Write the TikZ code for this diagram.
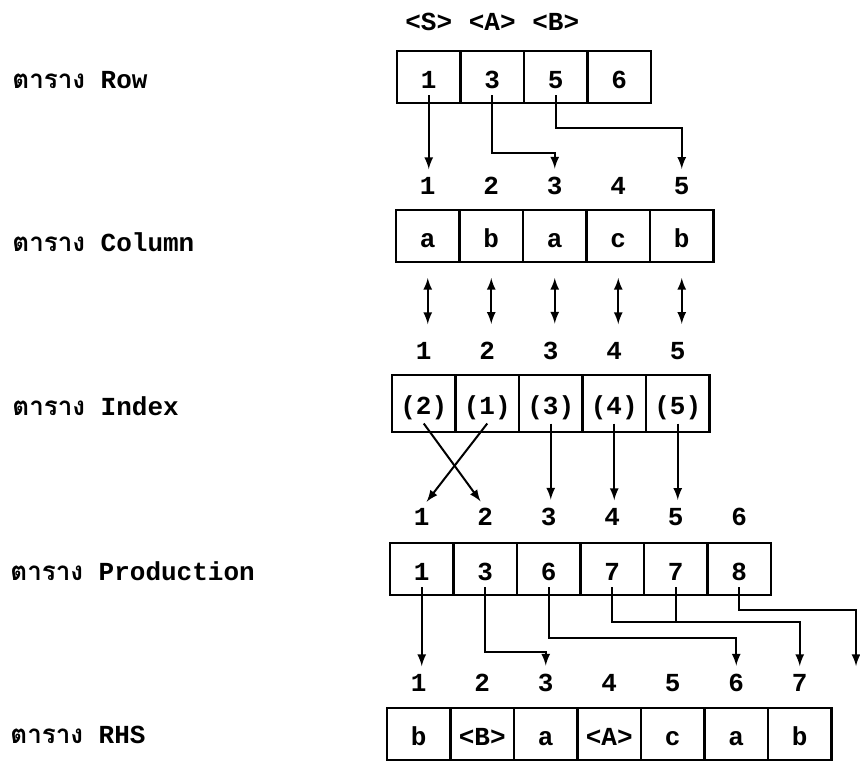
\documentclass[tikz,border=0pt]{standalone}
\usepackage{fontspec}
\setmonofont{Liberation Mono}
\newfontfamily\thaifont[Script=Thai]{Loma}
\usetikzlibrary{positioning}
\usetikzlibrary{arrows}
\newcommand{\tabfont}{\fontsize{13}{15}\selectfont\ttfamily\bfseries}
\tikzset{
  cell/.style = {rectangle, draw=black, line width=1.2pt, inner sep=0pt,
    outer sep=0pt, minimum width=31.75pt, minimum height=26pt,
    text height=12pt, text depth=1pt, font=\tabfont},% case d'une table
  idx_cell/.style = {cell, minimum height=28.5pt},% case de la table Index
  num/.style = {inner sep=0pt, font=\tabfont},% numero de case
  tab_label/.style = {anchor=west, inner sep=0pt, font=\tabfont},% nom de table
  link/.style = {->, >=latex, line width=1pt, shorten >=4pt},% fleche simple
  both_link/.style = {<->, >=latex, line width=1pt,
    shorten <=8pt, shorten >=9pt},% fleche double
  join_line/.style = {line width=1pt}% trait sans fleche
}

\begin{document}
\begin{tikzpicture}[x=0.5pt, y=-0.5pt]
  \useasboundingbox (0,0) rectangle (860,762);
  % noms des tables
  \node [tab_label] (lab_row) at (12,80) {{\thaifont ตาราง} Row};
  \node [tab_label] (lab_col) at (12,242) {{\thaifont ตาราง} Column};
  \node [tab_label] (lab_idx) at (12,406) {{\thaifont ตาราง} Index};
  \node [tab_label] (lab_prod) at (10,571) {{\thaifont ตาราง} Production};
  \node [tab_label] (lab_rhs) at (10,735) {{\thaifont ตาราง} RHS};
  % les cases
  \node [cell, anchor=north west] (row1) at (397,51) {1};
  \foreach \v [count=\i from 2, remember=\i as \j (initially 1)] in {3,5,6}
    \node [cell, right=0pt of row\j] (row\i) {\v};
  \node [cell, anchor=north west] (col1) at (396,210) {a};
  \foreach \v [count=\i from 2, remember=\i as \j (initially 1)] in {b,a,c,b}
    \node [cell, right=0pt of col\j] (col\i) {\v};
  \node [idx_cell, anchor=north west] (idx1) at (392,375) {(2)};
  \foreach \v [count=\i from 2, remember=\i as \j (initially 1)] in {1,3,4,5}
    \node [idx_cell, right=0pt of idx\j] (idx\i) {(\v)};
  \node [cell, anchor=north west] (prod1) at (390,543) {1};
  \foreach \v [count=\i from 2, remember=\i as \j (initially 1)] in {3,6,7,7,8}
    \node [cell, right=0pt of prod\j] (prod\i) {\v};
  \node [cell, anchor=north west] (rhs1) at (387,708) {b};
  \foreach \v [count=\i from 2, remember=\i as \j (initially 1)] in {<B>,a,<A>,c,a,b}
    \node [cell, right=0pt of rhs\j] (rhs\i) {\v};
  % numeros
  \foreach \v [count=\i] in {S,A,B}
    \node [num, above=10pt of row\i] (nt\i) {<\v>};
  \foreach \i in {1,...,5}
    \node [num, above=7.5pt of col\i] (cn\i) {\i};
  \foreach \i in {1,...,5}
    \node [num, above=7.5pt of idx\i] (in\i) {\i};
  \foreach \i in {1,...,6}
    \node [num, above=8.5pt of prod\i] (pn\i) {\i};
  \foreach \i in {1,...,7}
    \node [num, above=8pt of rhs\i] (hn\i) {\i};
  \coordinate (edge) at (856,666);
  % Row -> Column
  \draw [link] ([yshift=4pt]row1.south) -- (row1.south |- cn1.north);
  \draw [link] ([yshift=4pt]row2.south) -- ([yshift=-25pt]row2.south) -| (cn3.north);
  \draw [link] ([yshift=4pt]row3.south) -- ([yshift=-12.5pt]row3.south) -| (cn5.north);
  % Column <-> Index
  \foreach \i in {1,...,5}
    \draw [both_link] (col\i.south) -- (col\i.south |- in\i.north);
  % Index -> Production
  \draw [link] ([yshift=-10pt]idx1.center) -- (pn2.north);
  \draw [link] ([yshift=-10pt]idx2.center) -- (pn1.north);
  \foreach \i in {3,4,5}
    \draw [link] ([yshift=-10pt]idx\i.center) -- (idx\i.center |- pn\i.north);
  % Production -> RHS
  \draw [link] ([yshift=-9pt]prod1.center) -- (prod1.center |- hn1.north);
  \draw [link] ([yshift=-9pt]prod2.center) -- ([yshift=-28.5pt]prod2.south) -| (hn3.north);
  \draw [link] ([yshift=-9pt]prod3.center) -- ([yshift=-21.5pt]prod3.south) -| (hn6.north);
  \draw [link] ([yshift=-9pt]prod4.center) -- ([yshift=-13.5pt]prod4.south) -| (hn7.north);
  \draw [join_line] ([yshift=-9pt]prod5.center) -- ([yshift=-13.5pt]prod5.south);
  \draw [link, shorten >=0pt] ([yshift=-9pt]prod6.center) -- ([yshift=-7.5pt]prod6.south) -| (edge);
\end{tikzpicture}
\end{document}
